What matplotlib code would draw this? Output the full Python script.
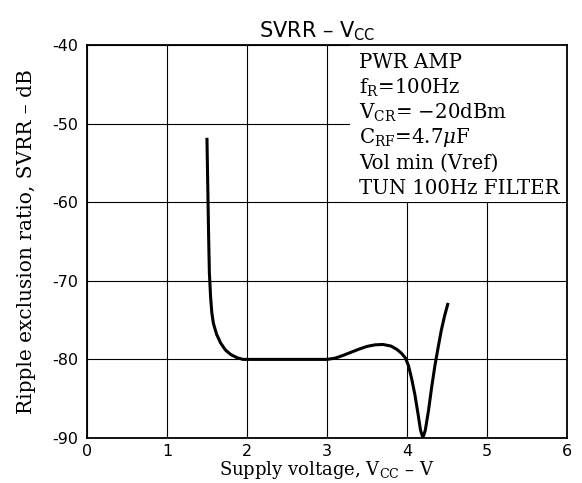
import matplotlib
matplotlib.use("Agg")
import matplotlib.pyplot as plt
from matplotlib.patches import Rectangle

# --- datos ---
vcc = [1.50, 1.51, 1.52, 1.53, 1.545, 1.56, 1.58, 1.62, 1.67, 1.73, 1.80, 1.88, 1.95,
       2.2, 2.6, 3.0, 3.1, 3.2, 3.3, 3.4, 3.5, 3.6, 3.7, 3.8, 3.87, 3.93, 3.98,
       4.02, 4.06, 4.10, 4.14, 4.17, 4.20, 4.23, 4.27, 4.31, 4.35, 4.39, 4.43, 4.47, 4.51]
svrr = [-52, -58, -64, -69, -72, -74, -75.4, -76.8, -77.9, -78.8, -79.4, -79.8, -80,
        -80, -80, -80, -79.85, -79.5, -79.1, -78.7, -78.35, -78.15, -78.1, -78.3, -78.7, -79.2, -79.8,
        -80.8, -82.5, -84.5, -87, -89, -90, -89, -86.5, -83.5, -80.8, -78.5, -76.3, -74.5, -73]

x_ticks = [0, 1, 2, 3, 4, 5, 6]
y_ticks = [-40, -50, -60, -70, -80, -90]

condiciones = ["PWR AMP",
               r"f$_\mathrm{R}$=100Hz",
               r"V$_\mathrm{CR}$= $-$20dBm",
               r"C$_\mathrm{RF}$=4.7$\mu$F",
               "Vol min (Vref)",
               "TUN 100Hz FILTER"]

plt.rcParams['mathtext.fontset'] = 'dejavuserif'
plt.rcParams['axes.unicode_minus'] = False
SERIF = "DejaVu Serif"

fig = plt.figure(figsize=(5.82, 4.83), dpi=100)
ax = fig.add_axes([0.1495, 0.0932, 0.8245, 0.8136])

ax.set_xlim(0, 6)
ax.set_ylim(-90, -40)
ax.set_xticks(x_ticks)
ax.set_yticks(y_ticks)
ax.tick_params(length=0, labelsize=11.5)
ax.tick_params(axis="x", pad=4)
ax.tick_params(axis="y", pad=6)
ax.grid(True, color="black", linewidth=0.8, zorder=0)
ax.set_axisbelow(True)
for s in ax.spines.values():
    s.set_linewidth(1.3)

# caja blanca que tapa la cuadricula
ax.add_patch(Rectangle((3.29, -60), 6 - 3.29, 20, facecolor="white",
                       edgecolor="none", zorder=1))
for i, t in enumerate(condiciones):
    ax.text(3.40, -42.2 - i * 3.2, t, fontsize=14.2, family=SERIF,
            va="center", ha="left", zorder=2)

ax.plot(vcc, svrr, color="black", linewidth=2.2, zorder=3)

ax.set_title(r"SVRR – V$_\mathsf{CC}$", fontsize=15, pad=5, x=0.48,
             fontdict={"family": "DejaVu Sans"})
ax.set_xlabel(r"Supply voltage, V$_\mathrm{CC}$ – V", fontsize=13, family=SERIF, labelpad=0)
ax.set_ylabel("Ripple exclusion ratio, SVRR – dB", fontsize=14.5, family=SERIF, labelpad=12)

fig.savefig("out.png", dpi=100)
